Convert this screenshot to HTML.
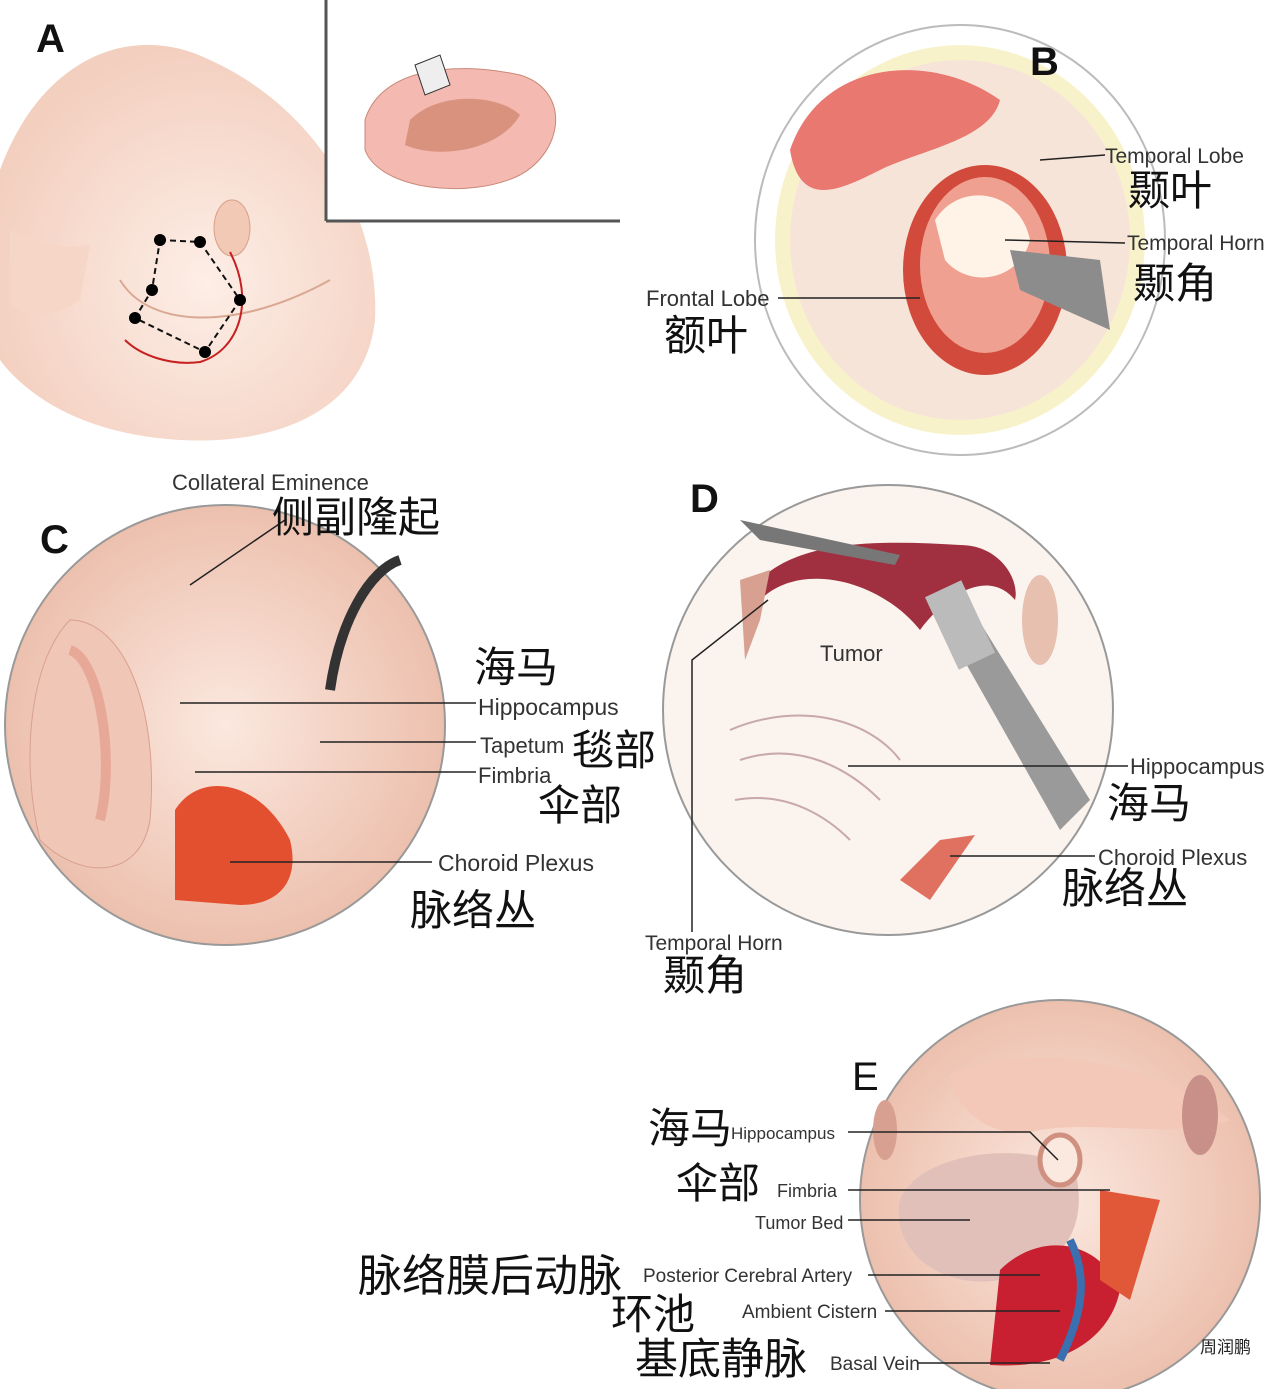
<!DOCTYPE html>
<html><head><meta charset="utf-8"><style>
html,body{margin:0;padding:0;background:#fff}
svg{display:block}
text{font-family:"Liberation Sans","Noto Sans CJK SC",sans-serif;fill:#222}
.cn{font-family:"Liberation Sans","Noto Sans CJK SC",sans-serif;font-size:42px;fill:#111}
.en{font-size:22px;fill:#333}
.big{font-size:40px;font-weight:bold;fill:#111}
</style></head><body>
<svg width="1268" height="1389" viewBox="0 0 1268 1389" xmlns="http://www.w3.org/2000/svg">
<defs>
<radialGradient id="skin" cx="0.55" cy="0.6" r="0.6"><stop offset="0" stop-color="#fdeee6"/><stop offset="1" stop-color="#f3cfbf"/></radialGradient>
<radialGradient id="pink" cx="0.5" cy="0.5" r="0.6"><stop offset="0" stop-color="#fbe8df"/><stop offset="1" stop-color="#eab8a4"/></radialGradient>
</defs>

<!-- Panel A -->
<path d="M0,170 C40,60 130,20 210,60 C320,110 380,220 375,320 C365,410 280,445 180,440 C90,435 30,400 0,360 Z" fill="url(#skin)"/>
<path d="M10,230 C30,240 60,250 90,245 L80,300 C50,320 20,320 10,300 Z" fill="#f6d6c6"/>
<path d="M120,280 C150,330 240,330 330,280" fill="none" stroke="#d9a893" stroke-width="2"/>
<ellipse cx="232" cy="228" rx="18" ry="28" fill="#f2c9b5" stroke="#d8a08a"/>
<path d="M160,240 L200,242 L240,300 L205,352 L135,318 L152,290 Z" fill="none" stroke="#111" stroke-width="2" stroke-dasharray="6,4"/>
<path d="M230,252 C255,300 240,350 200,362 C170,366 140,355 125,340" fill="none" stroke="#c62020" stroke-width="2"/>
<circle cx="160" cy="240" r="6"/><circle cx="200" cy="242" r="6"/><circle cx="152" cy="290" r="6"/><circle cx="240" cy="300" r="6"/><circle cx="205" cy="352" r="6"/><circle cx="135" cy="318" r="6"/>
<rect x="326" y="0" width="292" height="220" fill="#fff"/>
<line x1="326" y1="0" x2="326" y2="221" stroke="#555" stroke-width="3"/>
<line x1="326" y1="221" x2="620" y2="221" stroke="#555" stroke-width="3"/>
<path d="M365,120 C380,70 450,60 520,75 C570,90 565,150 520,175 C470,200 380,190 365,150 Z" fill="#f4b9b0" stroke="#c98878"/>
<path d="M410,120 C440,90 500,95 520,115 C500,150 440,160 405,145 Z" fill="#d9927e"/>
<path d="M415,65 L440,55 L450,85 L425,95 Z" fill="#eee" stroke="#333"/>
<text x="36" y="52" class="big">A</text>

<!-- Panel B -->
<ellipse cx="960" cy="240" rx="205" ry="215" fill="#fff" stroke="#bbb" stroke-width="2"/>
<ellipse cx="960" cy="240" rx="185" ry="195" fill="#f4e9a8" opacity="0.6"/>
<ellipse cx="960" cy="240" rx="170" ry="180" fill="#f7e4d8"/>
<path d="M790,150 C820,60 930,50 1000,100 C990,140 920,150 880,170 C840,190 800,210 790,150 Z" fill="#e87870"/>
<ellipse cx="985" cy="270" rx="82" ry="105" fill="#d14a3c"/>
<ellipse cx="985" cy="265" rx="65" ry="88" fill="#f0a090"/>
<path d="M935,220 C960,180 1020,190 1030,240 C1020,280 970,290 945,260 Z" fill="#fff3e8"/>
<path d="M1010,250 L1100,260 L1110,330 L1020,290 Z" fill="#8c8c8c"/>
<line x1="1040" y1="160" x2="1105" y2="155" stroke="#222" stroke-width="1.5"/>
<text x="1105" y="163" class="en" style="font-size:21px">Temporal Lobe</text>
<text x="1128" y="205" class="cn">颞叶</text>
<line x1="1005" y1="240" x2="1125" y2="243" stroke="#222" stroke-width="1.5"/>
<text x="1127" y="250" class="en" style="font-size:21px">Temporal Horn</text>
<text x="1133" y="298" class="cn">颞角</text>
<line x1="778" y1="298" x2="920" y2="298" stroke="#222" stroke-width="1.5"/>
<text x="646" y="306" class="en">Frontal Lobe</text>
<text x="664" y="350" class="cn">额叶</text>
<text x="1030" y="75" class="big">B</text>

<!-- Panel C -->
<circle cx="225" cy="725" r="220" fill="url(#pink)" stroke="#999" stroke-width="2"/>
<path d="M70,620 C120,620 160,700 150,820 C140,880 80,880 40,840 C20,760 30,660 70,620 Z" fill="#f0c6b6" stroke="#d8a090"/>
<path d="M70,650 C100,660 115,760 100,820" fill="none" stroke="#e8a898" stroke-width="10"/>
<path d="M175,810 C200,770 260,780 290,840 C300,880 280,905 240,905 L175,900 Z" fill="#e25030"/>
<path d="M330,690 C340,620 370,570 400,560" fill="none" stroke="#333" stroke-width="10"/>
<line x1="190" y1="585" x2="285" y2="520" stroke="#222" stroke-width="1.5"/>
<text x="172" y="490" class="en">Collateral Eminence</text>
<text x="272" y="532" class="cn">侧副隆起</text>
<text x="474" y="682" class="cn">海马</text>
<line x1="180" y1="703" x2="476" y2="703" stroke="#222" stroke-width="1.5"/>
<text x="478" y="715" class="en" style="font-size:23px">Hippocampus</text>
<line x1="320" y1="742" x2="476" y2="742" stroke="#222" stroke-width="1.5"/>
<text x="480" y="753" class="en">Tapetum</text>
<text x="572" y="765" class="cn">毯部</text>
<line x1="195" y1="772" x2="476" y2="772" stroke="#222" stroke-width="1.5"/>
<text x="478" y="783" class="en">Fimbria</text>
<text x="538" y="820" class="cn">伞部</text>
<line x1="230" y1="862" x2="432" y2="862" stroke="#222" stroke-width="1.5"/>
<text x="438" y="871" class="en" style="font-size:23px">Choroid Plexus</text>
<text x="410" y="925" class="cn">脉络丛</text>
<text x="40" y="553" class="big">C</text>

<!-- Panel D -->
<circle cx="888" cy="710" r="225" fill="#faf3ee" stroke="#999" stroke-width="2"/>
<path d="M760,580 C800,540 880,540 960,545 C1000,545 1020,580 1015,600 C990,570 950,590 920,630 C880,580 800,560 760,600 Z" fill="#a03040"/>
<path d="M740,580 L770,570 L760,620 L745,660 Z" fill="#d8a090"/>
<path d="M900,880 L940,840 L975,835 L930,900 Z" fill="#e07060"/>
<path d="M930,600 L960,590 L1090,800 L1060,830 Z" fill="#9a9a9a"/>
<rect x="940" y="585" width="40" height="80" fill="#bbb" transform="rotate(-25 960 625)"/>
<path d="M740,520 L900,555 L895,565 L760,540 Z" fill="#777"/>
<path d="M730,730 C800,700 870,720 900,760 M740,760 C800,740 850,770 880,800 M735,800 C790,790 830,820 850,840" fill="none" stroke="#c8a8a8" stroke-width="2"/>
<ellipse cx="1040" cy="620" rx="18" ry="45" fill="#e8c0b0"/>
<text x="820" y="661" class="en">Tumor</text>
<polyline points="768,600 692,660 692,932" fill="none" stroke="#222" stroke-width="1.5"/>
<text x="645" y="950" class="en" style="font-size:21px">Temporal Horn</text>
<text x="663" y="990" class="cn">颞角</text>
<line x1="848" y1="766" x2="1128" y2="766" stroke="#222" stroke-width="1.5"/>
<text x="1130" y="774" class="en">Hippocampus</text>
<text x="1107" y="818" class="cn">海马</text>
<line x1="950" y1="856" x2="1095" y2="856" stroke="#222" stroke-width="1.5"/>
<text x="1098" y="865" class="en">Choroid Plexus</text>
<text x="1062" y="903" class="cn">脉络丛</text>
<text x="690" y="512" class="big">D</text>

<!-- Panel E -->
<circle cx="1060" cy="1200" r="200" fill="url(#pink)" stroke="#999" stroke-width="2"/>
<path d="M950,1075 C1030,1040 1150,1060 1230,1120 C1180,1140 1100,1120 1040,1130 C1000,1140 960,1120 950,1075 Z" fill="#f3c8b8"/>
<path d="M900,1200 C920,1150 1030,1140 1075,1170 C1090,1230 1060,1270 1000,1280 C940,1290 890,1250 900,1200 Z" fill="#e0c0b8"/>
<path d="M1000,1270 C1040,1230 1100,1240 1120,1290 C1110,1340 1060,1370 990,1365 Z" fill="#c82030"/>
<path d="M1070,1240 C1090,1280 1080,1320 1060,1360" fill="none" stroke="#3a6fb0" stroke-width="8"/>
<path d="M1100,1190 L1160,1200 L1130,1300 L1100,1280 Z" fill="#e05838"/>
<ellipse cx="1060" cy="1160" rx="20" ry="25" fill="#fbe8df" stroke="#d09080" stroke-width="5"/>
<ellipse cx="1200" cy="1115" rx="18" ry="40" fill="#c89088"/>
<ellipse cx="885" cy="1130" rx="12" ry="30" fill="#d8a090"/>
<text x="648" y="1143" class="cn">海马</text>
<text x="731" y="1139" style="font-size:17px;fill:#333">Hippocampus</text>
<polyline points="848,1132 1030,1132 1058,1160" fill="none" stroke="#222" stroke-width="1.5"/>
<text x="676" y="1198" class="cn">伞部</text>
<text x="777" y="1197" class="en" style="font-size:18px">Fimbria</text>
<line x1="848" y1="1190" x2="1110" y2="1190" stroke="#222" stroke-width="1.5"/>
<text x="755" y="1229" class="en" style="font-size:18px">Tumor Bed</text>
<line x1="848" y1="1220" x2="970" y2="1220" stroke="#222" stroke-width="1.5"/>
<text x="358" y="1291" class="cn" style="font-size:44px">脉络膜后动脉</text>
<text x="643" y="1282" class="en" style="font-size:19px">Posterior Cerebral Artery</text>
<line x1="868" y1="1275" x2="1040" y2="1275" stroke="#222" stroke-width="1.5"/>
<text x="611" y="1329" class="cn">环池</text>
<text x="742" y="1318" class="en" style="font-size:19px">Ambient Cistern</text>
<line x1="885" y1="1311" x2="1060" y2="1311" stroke="#222" stroke-width="1.5"/>
<text x="635" y="1374" class="cn" style="font-size:43px">基底静脉</text>
<text x="830" y="1370" class="en" style="font-size:19px">Basal Vein</text>
<line x1="918" y1="1363" x2="1050" y2="1363" stroke="#222" stroke-width="1.5"/>
<text x="852" y="1090" class="big" style="font-weight:normal">E</text>
<text x="1200" y="1353" style="font-size:17px;fill:#222">周润鹏</text>
</svg>
</body></html>
